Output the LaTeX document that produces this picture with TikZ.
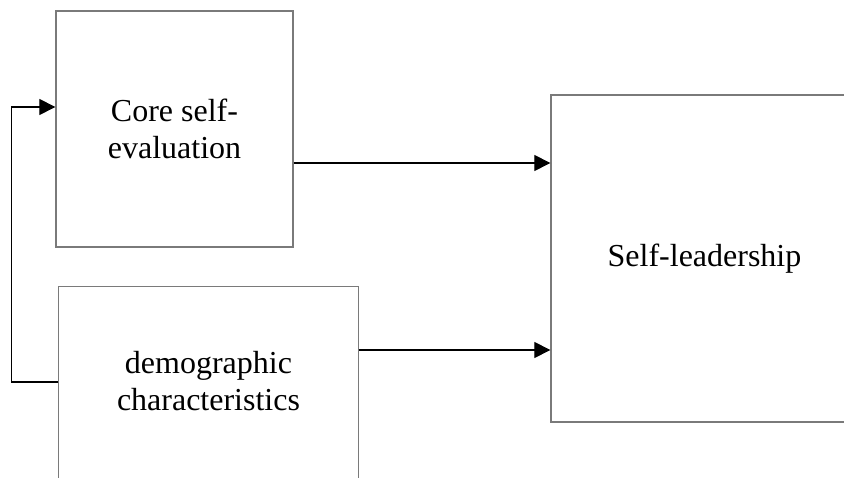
\documentclass[tikz,border=0pt]{standalone}
\usepackage{fontspec}
\setmainfont{Liberation Serif}
\usetikzlibrary{arrows.meta}
\definecolor{boxgray}{HTML}{7A7A7A}
\begin{document}
\begin{tikzpicture}[x=1pt,y=-1pt,
  boxstyle/.style={draw=boxgray,line width=1.3pt,rectangle,inner sep=0pt,align=center,
    font=\fontsize{32}{37}\selectfont},
  conn/.style={draw=black,line width=1.1pt,-{Triangle[length=16pt,width=16pt]}}]
\useasboundingbox (0,0) rectangle (844,478);
\clip (0,0) rectangle (844,478);
\fill[white] (0,0) rectangle (844,478);
% boxes
\node[boxstyle,minimum width=237pt,minimum height=236pt] (cse) at (174.5,129) {Core self-\\evaluation};
\node[boxstyle,draw=none,minimum width=299pt,minimum height=188pt] (demo) at (208.5,381) {demographic\\characteristics};
\draw[draw=boxgray,line width=1.3pt] ([yshift=-40pt]demo.south west) -- (demo.north west) -- (demo.north east) -- ([yshift=-40pt]demo.south east);
\node[boxstyle,minimum width=307pt,minimum height=327pt] (sl) at (704.5,258.5) {Self-leadership};
% connectors
\coordinate (a1) at ([yshift=-34pt]cse.east);
\draw[conn] (a1) -- (a1 -| sl.west);
\coordinate (a2) at ([yshift=31pt]demo.east);
\draw[conn] (a2) -- (a2 -| sl.west);
\coordinate (f0) at ([yshift=-1pt]demo.west);
\coordinate (f1) at ([yshift=22pt]cse.west);
\draw[conn] (f0) -- ++(-47,0) |- (f1);
\end{tikzpicture}
\end{document}
